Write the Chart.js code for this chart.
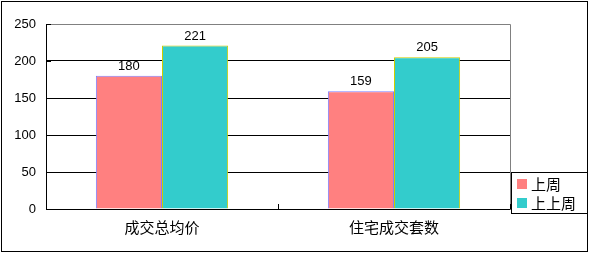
<!DOCTYPE html>
<html><head><meta charset="utf-8">
<style>html,body{margin:0;padding:0;background:#fff;}canvas{display:block;}</style>
<script src="https://cdn.jsdelivr.net/npm/chart.js@4/dist/chart.umd.min.js"></script>
</head><body>
<canvas id="c" width="590" height="253"></canvas>
<script>
const categories = ['成交总均价', '住宅成交套数'];
const seriesNames = ['上周', '上上周'];
const lastWeek = [180, 159];
const weekBefore = [221, 205];
const yTicks = [0, 50, 100, 150, 200, 250];

const CJK = '"Noto Sans CJK SC", sans-serif';
const NUM = '"Liberation Sans", "DejaVu Sans", sans-serif';

const deco = {
  id: 'deco',
  afterDatasetsDraw(chart) {
    const ctx = chart.ctx;
    const ca = chart.chartArea;
    ctx.save();
    // data labels
    ctx.fillStyle = '#000';
    ctx.font = '13px ' + NUM;
    ctx.textAlign = 'center';
    ctx.textBaseline = 'bottom';
    chart.data.datasets.forEach((ds, i) => {
      chart.getDatasetMeta(i).data.forEach((bar, j) => {
        ctx.fillText(String(ds.data[j]), bar.x, bar.y - 3);
      });
    });
    // plot border top/right gray
    ctx.strokeStyle = '#808080';
    ctx.lineWidth = 1;
    ctx.beginPath();
    ctx.moveTo(Math.round(ca.left) + 0.5, Math.round(ca.top) + 0.5);
    ctx.lineTo(Math.round(ca.right) + 0.5, Math.round(ca.top) + 0.5);
    ctx.lineTo(Math.round(ca.right) + 0.5, Math.round(ca.bottom) + 0.5);
    ctx.stroke();
    // axes black
    ctx.strokeStyle = '#000';
    ctx.beginPath();
    ctx.moveTo(Math.round(ca.left) + 0.5, Math.round(ca.top) + 0.5);
    ctx.lineTo(Math.round(ca.left) + 0.5, Math.round(ca.bottom) + 0.5);
    ctx.lineTo(Math.round(ca.right) + 0.5, Math.round(ca.bottom) + 0.5);
    ctx.stroke();
    // inward ticks on y axis
    const ys = chart.scales.y;
    ctx.beginPath();
    yTicks.forEach(v => {
      const py = Math.round(ys.getPixelForValue(v)) + 0.5;
      ctx.moveTo(Math.round(ca.left), py);
      ctx.lineTo(Math.round(ca.left) + 5, py);
    });
    // inward category boundary ticks on x axis
    const xs = chart.scales.x;
    const n = categories.length;
    for (let k = 1; k <= n; k++) {
      const px = Math.round(ca.left + (ca.right - ca.left) * k / n) + 0.5;
      ctx.moveTo(px, Math.round(ca.bottom));
      ctx.lineTo(px, Math.round(ca.bottom) - 5);
    }
    ctx.stroke();
    // outer border
    ctx.strokeStyle = '#000';
    ctx.strokeRect(1.5, 1.5, 586, 250);
    // legend
    ctx.fillStyle = '#fff';
    ctx.fillRect(511, 172, 77, 42);
    ctx.strokeRect(511.5, 172.5, 76, 41);
    ctx.font = '15px ' + CJK;
    ctx.textAlign = 'left';
    ctx.textBaseline = 'middle';
    chart.data.datasets.forEach((ds, i) => {
      const top = 179 + i * 19;
      ctx.fillStyle = ds.backgroundColor;
      ctx.fillRect(517, top, 10, 10);
      ctx.fillStyle = '#000';
      ctx.fillText(ds.label, 531, top + 5);
    });
    ctx.restore();
  }
};

new Chart(document.getElementById('c'), {
  type: 'bar',
  data: {
    labels: categories,
    datasets: [
      { label: seriesNames[0], data: lastWeek, backgroundColor: '#FF8080', borderColor: '#8080FF', borderWidth: 1 },
      { label: seriesNames[1], data: weekBefore, backgroundColor: '#33CCCC', borderColor: '#CCCC00', borderWidth: 1 }
    ]
  },
  options: {
    responsive: false,
    animation: false,
    devicePixelRatio: 1,
    layout: { padding: { left: 0, top: 24, right: 80, bottom: 0 } },
    plugins: { legend: { display: false }, tooltip: { enabled: false } },
    datasets: { bar: { categoryPercentage: 0.57, barPercentage: 1.0 } },
    scales: {
      x: {
        grid: { display: false, drawTicks: false },
        border: { display: false },
        ticks: { color: '#000', font: { family: CJK, size: 15 }, padding: 9, maxRotation: 0 },
        afterFit(s) { s.height = 44; }
      },
      y: {
        min: 0, max: 250,
        afterBuildTicks(s) { s.ticks = yTicks.map(v => ({ value: v })); },
        grid: { color: ctx => (ctx.tick && ctx.tick.value === 250) ? '#808080' : '#000', drawTicks: false },
        border: { display: false },
        ticks: { color: '#000', font: { family: NUM, size: 13 }, padding: 10 },
        afterFit(s) { s.width = 46; }
      }
    }
  },
  plugins: [deco]
});
</script>
</body></html>
